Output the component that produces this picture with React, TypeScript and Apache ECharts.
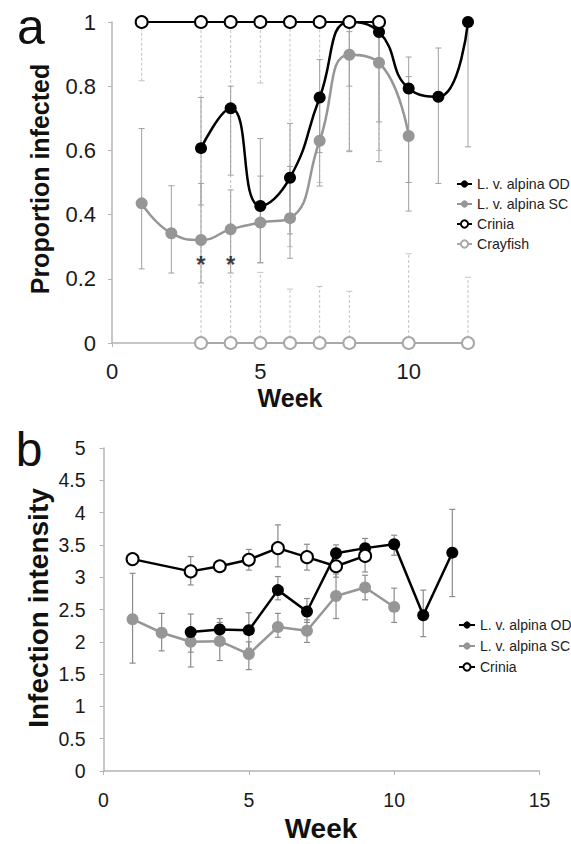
import React, { useEffect, useRef } from "react";
import * as echarts from "echarts";

// ---------- Panel a: proportion infected ----------
const aOdWeeks = [3, 4, 5, 6, 7, 8, 9, 10, 11, 12];
const aOdValues = [0.607, 0.731, 0.427, 0.515, 0.765, 1.0, 0.969, 0.793, 0.767, 1.0];
const aOdLow = [0.43, 0.523, 0.25, 0.34, 0.593, 0.8, 0.689, 0.5, 0.497, 0.611];
const aOdHigh = [0.765, 0.8, 0.637, 0.684, 0.883, 1.0, 1.0, 0.891, 0.919, 1.0];

const aScWeeks = [1, 2, 3, 4, 5, 6, 7, 8, 9, 10];
const aScValues = [0.435, 0.342, 0.321, 0.354, 0.375, 0.389, 0.63, 0.898, 0.873, 0.645];
const aScLow = [0.231, 0.218, 0.187, 0.218, 0.25, 0.264, 0.489, 0.596, 0.565, 0.411];
const aScHigh = [0.668, 0.49, 0.497, 0.477, 0.52, 0.55, 0.76, 0.97, 0.97, 0.83];

const aCriniaWeeks = [1, 3, 4, 5, 6, 7, 8, 9];
const aCriniaValues = [1, 1, 1, 1, 1, 1, 1, 1];
const aCriniaLow = [0.817, 0, 0, 0.81, 0.3, 0.5, 0.6, 0.6];
const aCriniaHigh = [1, 1, 1, 1, 1, 1, 1, 1];

const aCrayfishWeeks = [3, 4, 5, 6, 7, 8, 10, 12];
const aCrayfishValues = [0, 0, 0, 0, 0, 0, 0, 0];
const aCrayfishLow = [0, 0, 0, 0, 0, 0, 0, 0];
const aCrayfishHigh = [0, 0, 0.22, 0.168, 0.176, 0.161, 0.278, 0.205];

const asteriskWeeks = [3, 4];
const asteriskLevel = 0.26;

// ---------- Panel b: infection intensity ----------
const bOdWeeks = [3, 4, 5, 6, 7, 8, 9, 10, 11, 12];
const bOdValues = [2.15, 2.19, 2.18, 2.8, 2.47, 3.37, 3.45, 3.51, 2.41, 3.38];
const bOdLow = [1.84, 2.0, 1.9, 2.65, 2.3, 3.2, 3.3, 3.34, 2.08, 2.7];
const bOdHigh = [2.43, 2.36, 2.45, 3.01, 2.67, 3.5, 3.6, 3.65, 2.8, 4.05];

const bScWeeks = [1, 2, 3, 4, 5, 6, 7, 8, 9, 10];
const bScValues = [2.35, 2.14, 2.0, 2.01, 1.81, 2.23, 2.17, 2.71, 2.84, 2.54];
const bScLow = [1.67, 1.86, 1.61, 1.71, 1.57, 2.07, 1.99, 2.36, 2.65, 2.3];
const bScHigh = [3.06, 2.44, 2.2, 2.3, 2.0, 2.44, 2.34, 3.05, 3.03, 2.83];

const bCriniaWeeks = [1, 3, 4, 5, 6, 7, 8, 9];
const bCriniaValues = [3.28, 3.09, 3.17, 3.27, 3.45, 3.31, 3.17, 3.33];
const bCriniaLow = [3.28, 2.88, 3.1, 3.11, 3.16, 3.11, 3.0, 3.08];
const bCriniaHigh = [3.28, 3.32, 3.24, 3.43, 3.81, 3.51, 3.3, 3.5];

const NAME_OD = "L. v. alpina OD";
const NAME_SC = "L. v. alpina SC";
const NAME_CRINIA = "Crinia";
const NAME_CRAYFISH = "Crayfish";

const FONT = "'Liberation Sans', Arial, Helvetica, sans-serif";

const pairs = (xs: number[], ys: number[]) => xs.map((x, i) => [x, ys[i]]);
const triples = (xs: number[], lo: number[], hi: number[]) =>
  xs.map((x, i) => [x, lo[i], hi[i]]);

function errorBars(
  grid: number,
  data: number[][],
  color: string,
  width: number,
  dash: number[] | null,
  capHalf: number
) {
  return {
    type: "custom",
    xAxisIndex: grid,
    yAxisIndex: grid,
    z: 1,
    silent: true,
    data,
    renderItem: (params: any, api: any) => {
      const x = api.value(0);
      const lo = api.value(1);
      const hi = api.value(2);
      if (lo === hi) return { type: "group", children: [] };
      const p1 = api.coord([x, lo]);
      const p2 = api.coord([x, hi]);
      const style: any = { stroke: color, lineWidth: width };
      if (dash) style.lineDash = dash;
      return {
        type: "group",
        children: [
          { type: "line", shape: { x1: p1[0], y1: p1[1], x2: p2[0], y2: p2[1] }, style },
          { type: "line", shape: { x1: p1[0] - capHalf, y1: p1[1], x2: p1[0] + capHalf, y2: p1[1] }, style: { stroke: color, lineWidth: width } },
          { type: "line", shape: { x1: p2[0] - capHalf, y1: p2[1], x2: p2[0] + capHalf, y2: p2[1] }, style: { stroke: color, lineWidth: width } },
        ],
      };
    },
  };
}

export default function App() {
  const ref = useRef<HTMLDivElement>(null);

  useEffect(() => {
    if (!ref.current) return;
    const chart = echarts.init(ref.current, null, { renderer: "svg" });

    const axisGrey = "#b4b4b4";

    const option: any = {
      animation: false,
      backgroundColor: "#ffffff",
      textStyle: { fontFamily: FONT },
      grid: [
        { left: 112, right: 103, top: 22, bottom: 501, containLabel: false },
        { left: 103.5, right: 31.5, top: 448, bottom: 73, containLabel: false },
      ],
      xAxis: [
        {
          type: "value",
          gridIndex: 0,
          min: 0,
          max: 12,
          interval: 5,
          splitLine: { show: false },
          axisLine: { lineStyle: { color: axisGrey, width: 1.5 } },
          axisTick: { show: true, length: 4, lineStyle: { color: axisGrey } },
          axisLabel: { showMaxLabel: false, color: "#1a1a1a", fontSize: 22, margin: 17, fontFamily: FONT },
        },
        {
          type: "value",
          gridIndex: 1,
          min: 0,
          max: 15,
          interval: 5,
          splitLine: { show: false },
          axisLine: { lineStyle: { color: axisGrey, width: 1.5 } },
          axisTick: { show: true, length: 4, lineStyle: { color: axisGrey } },
          axisLabel: { color: "#1a1a1a", fontSize: 19.5, margin: 19, fontFamily: FONT },
        },
      ],
      yAxis: [
        {
          type: "value",
          gridIndex: 0,
          min: 0,
          max: 1,
          interval: 0.2,
          splitLine: { show: false },
          axisLine: { show: true, lineStyle: { color: axisGrey, width: 1.5 } },
          axisTick: { show: true, length: 4, lineStyle: { color: axisGrey } },
          axisLabel: { color: "#1a1a1a", fontSize: 22, margin: 16, fontFamily: FONT },
        },
        {
          type: "value",
          gridIndex: 1,
          min: 0,
          max: 5,
          interval: 0.5,
          splitLine: { show: false },
          axisLine: { show: true, lineStyle: { color: axisGrey, width: 1.5 } },
          axisTick: { show: true, length: 4, lineStyle: { color: axisGrey } },
          axisLabel: { color: "#1a1a1a", fontSize: 19.5, margin: 18, fontFamily: FONT },
        },
      ],
      legend: [
        {
          orient: "vertical",
          left: 456,
          top: 177,
          padding: 0,
          itemWidth: 15,
          itemHeight: 9,
          itemGap: 6,
          selectedMode: false,
          data: [NAME_OD, NAME_SC, NAME_CRINIA, NAME_CRAYFISH],
          textStyle: { fontSize: 14.2, color: "#222", fontFamily: FONT },
        },
        {
          orient: "vertical",
          left: 458,
          top: 618,
          padding: 0,
          itemWidth: 16,
          itemHeight: 9,
          itemGap: 7,
          selectedMode: false,
          data: [NAME_OD, NAME_SC, NAME_CRINIA],
          textStyle: { fontSize: 14, color: "#222", fontFamily: FONT },
        },
      ],
      graphic: [
        { type: "text", x: 31, y: 27, style: { text: "a", font: `50px ${FONT}`, fill: "#111", align: "center", verticalAlign: "middle" } },
        { type: "text", x: 29, y: 449, style: { text: "b", font: `48px ${FONT}`, fill: "#111", align: "center", verticalAlign: "middle" } },
        { type: "text", x: 40, y: 179, rotation: Math.PI / 2, style: { text: "Proportion infected", font: `bold 25px ${FONT}`, fill: "#111", align: "center", verticalAlign: "middle" } },
        { type: "text", x: 290, y: 398, style: { text: "Week", font: `bold 25px ${FONT}`, fill: "#111", align: "center", verticalAlign: "middle" } },
        { type: "text", x: 38, y: 608, rotation: Math.PI / 2, style: { text: "Infection intensity", font: `bold 28px ${FONT}`, fill: "#111", align: "center", verticalAlign: "middle" } },
        { type: "text", x: 321, y: 828, style: { text: "Week", font: `bold 28px ${FONT}`, fill: "#111", align: "center", verticalAlign: "middle" } },
      ],
      series: [
        // ----- panel a error bars -----
        errorBars(0, triples(aCriniaWeeks, aCriniaLow, aCriniaHigh), "#c4c4c4", 1, [3, 2], 3),
        errorBars(0, triples(aCrayfishWeeks, aCrayfishLow, aCrayfishHigh), "#c4c4c4", 1, [3, 2], 3),
        errorBars(0, triples(aScWeeks, aScLow, aScHigh), "#a0a0a0", 1, null, 3),
        errorBars(0, triples(aOdWeeks, aOdLow, aOdHigh), "#a0a0a0", 1, null, 3),
        // ----- panel a lines -----
        {
          name: NAME_SC,
          type: "line",
          xAxisIndex: 0,
          yAxisIndex: 0,
          z: 3,
          smooth: 0.5,
          data: pairs(aScWeeks, aScValues),
          symbol: "circle",
          symbolSize: 12,
          itemStyle: { color: "#969696" },
          lineStyle: { color: "#969696", width: 2.5 },
        },
        {
          name: NAME_OD,
          type: "line",
          xAxisIndex: 0,
          yAxisIndex: 0,
          z: 4,
          smooth: 0.5,
          data: pairs(aOdWeeks, aOdValues),
          symbol: "circle",
          symbolSize: 12,
          itemStyle: { color: "#000" },
          lineStyle: { color: "#000", width: 2.5 },
        },
        {
          name: NAME_CRAYFISH,
          type: "line",
          xAxisIndex: 0,
          yAxisIndex: 0,
          z: 4,
          data: pairs(aCrayfishWeeks, aCrayfishValues),
          symbol: "circle",
          symbolSize: 12,
          itemStyle: { color: "#fff", borderColor: "#a8a8a8", borderWidth: 2 },
          lineStyle: { color: "#a8a8a8", width: 2 },
        },
        {
          name: NAME_CRINIA,
          type: "line",
          xAxisIndex: 0,
          yAxisIndex: 0,
          z: 5,
          data: pairs(aCriniaWeeks, aCriniaValues),
          symbol: "circle",
          symbolSize: 12,
          itemStyle: { color: "#fff", borderColor: "#000", borderWidth: 2 },
          lineStyle: { color: "#000", width: 2 },
        },
        {
          name: "asterisks",
          type: "scatter",
          xAxisIndex: 0,
          yAxisIndex: 0,
          z: 6,
          silent: true,
          symbolSize: 1,
          itemStyle: { color: "rgba(0,0,0,0)" },
          data: asteriskWeeks.map((w) => [w, asteriskLevel]),
          label: {
            show: true,
            position: "inside",
            formatter: "*",
            fontSize: 24,
            fontWeight: "bold",
            color: "#111",
            offset: [0, 5],
            fontFamily: FONT,
          },
        },
        // ----- panel b error bars -----
        errorBars(1, triples(bCriniaWeeks, bCriniaLow, bCriniaHigh), "#8c8c8c", 1.2, null, 3),
        errorBars(1, triples(bScWeeks, bScLow, bScHigh), "#8c8c8c", 1.2, null, 3),
        errorBars(1, triples(bOdWeeks, bOdLow, bOdHigh), "#8c8c8c", 1.2, null, 3),
        // ----- panel b lines -----
        {
          name: NAME_SC,
          type: "line",
          xAxisIndex: 1,
          yAxisIndex: 1,
          z: 3,
          data: pairs(bScWeeks, bScValues),
          symbol: "circle",
          symbolSize: 12,
          itemStyle: { color: "#969696" },
          lineStyle: { color: "#969696", width: 2.5 },
        },
        {
          name: NAME_OD,
          type: "line",
          xAxisIndex: 1,
          yAxisIndex: 1,
          z: 4,
          data: pairs(bOdWeeks, bOdValues),
          symbol: "circle",
          symbolSize: 12,
          itemStyle: { color: "#000" },
          lineStyle: { color: "#000", width: 2.5 },
        },
        {
          name: NAME_CRINIA,
          type: "line",
          xAxisIndex: 1,
          yAxisIndex: 1,
          z: 5,
          data: pairs(bCriniaWeeks, bCriniaValues),
          symbol: "circle",
          symbolSize: 12,
          itemStyle: { color: "#fff", borderColor: "#000", borderWidth: 2 },
          lineStyle: { color: "#000", width: 2.5 },
        },
      ],
    };

    chart.setOption(option);
    return () => chart.dispose();
  }, []);

  return (
    <div
      ref={ref}
      style={{ position: "fixed", left: 0, top: 0, width: 571, height: 844, background: "#fff" }}
    />
  );
}
